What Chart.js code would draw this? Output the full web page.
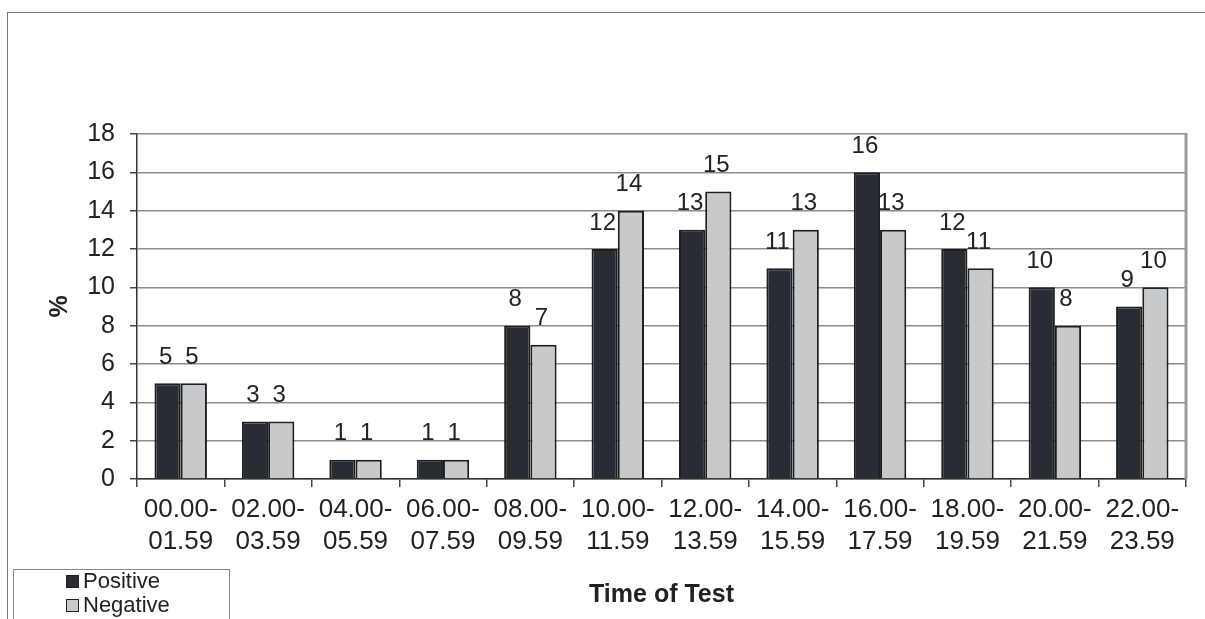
<!DOCTYPE html>
<html>
<head>
<meta charset="utf-8">
<script src="https://cdn.jsdelivr.net/npm/chart.js@4.4.0/dist/chart.umd.min.js"></script>
<style>
    html, body { margin: 0; padding: 0; background: #fff; overflow: hidden; }
    #wrap { position: relative; width: 1205px; height: 619px; }
    #frame { position: absolute; left: 7px; top: 12px; right: 0; bottom: 0;
             border-top: 1.5px solid #777; border-left: 1.5px solid #777; }
    #legend { position: absolute; left: 13px; top: 569px; width: 215px; height: 70px;
              border: 1px solid #888; background: #fff;
              font-family: "Liberation Sans", Arial, sans-serif; font-size: 22px; color: #222; }
    #legend .item { position: absolute; left: 52px; display: flex; align-items: center; }
    #legend .sw { width: 13px; height: 13px; border: 1.5px solid #222; margin-right: 4px; box-sizing: border-box; }
</style>
</head>
<body>
<div id="wrap">
    <div id="frame"></div>
    <canvas id="barChart" width="1205" height="619"></canvas>
    <div id="legend"></div>
</div>
<script>
const categories = [
    ['00.00-', '01.59'], ['02.00-', '03.59'], ['04.00-', '05.59'], ['06.00-', '07.59'],
    ['08.00-', '09.59'], ['10.00-', '11.59'], ['12.00-', '13.59'], ['14.00-', '15.59'],
    ['16.00-', '17.59'], ['18.00-', '19.59'], ['20.00-', '21.59'], ['22.00-', '23.59']
];
const positive = [5, 3, 1, 1, 8, 12, 13, 11, 16, 12, 10, 9];
const negative = [5, 3, 1, 1, 7, 14, 15, 13, 13, 11, 8, 10];
const yTicks = [0, 2, 4, 6, 8, 10, 12, 14, 16, 18];

const FONT = '"Liberation Sans", Arial, sans-serif';
const TEXT = '#222';

// 數值標籤：畫在每根長條上方
const valueLabels = {
    id: 'valueLabels',
    afterDatasetsDraw(chart) {
        const ctx = chart.ctx;
        ctx.save();
        ctx.font = '24px ' + FONT;
        ctx.fillStyle = TEXT;
        ctx.textAlign = 'center';
        ctx.textBaseline = 'bottom';
        chart.data.datasets.forEach((ds, i) => {
            chart.getDatasetMeta(i).data.forEach((bar, j) => {
                ctx.fillText(ds.data[j], bar.x - 2, bar.y - 14);
            });
        });
        ctx.restore();
    }
};

// 繪圖區右側框線
const rightEdge = {
    id: 'rightEdge',
    beforeDatasetsDraw(chart) {
        const { ctx, chartArea } = chart;
        ctx.save();
        ctx.strokeStyle = '#999';
        ctx.lineWidth = 3;
        ctx.beginPath();
        ctx.moveTo(chartArea.right, chartArea.top - 1);
        ctx.lineTo(chartArea.right, chartArea.bottom);
        ctx.stroke();
        ctx.restore();
    }
};

const chart = new Chart(document.getElementById('barChart'), {
    type: 'bar',
    data: {
        labels: categories,
        datasets: [{
            label: 'Positive',
            data: positive,
            backgroundColor: '#272d33',
            borderColor: '#1c1f22',
            borderWidth: 2,
            categoryPercentage: 0.6,
            barPercentage: 1.0
        }, {
            label: 'Negative',
            data: negative,
            backgroundColor: '#c7c9cb',
            borderColor: '#1c1f22',
            borderWidth: 2,
            categoryPercentage: 0.6,
            barPercentage: 1.0
        }]
    },
    options: {
        responsive: false,
        animation: false,
        layout: { padding: { top: 134, right: 19, left: 0, bottom: 0 } },
        plugins: {
            legend: { display: false },
            tooltip: { enabled: false }
        },
        scales: {
            x: {
                afterFit(scale) { scale.height = 140; },
                grid: { offset: true, drawOnChartArea: false, tickLength: 8, color: '#444', lineWidth: 1.5 },
                border: { color: '#333', width: 1.5 },
                ticks: { color: TEXT, font: { family: FONT, size: 26, lineHeight: 1.26 }, padding: 6, maxRotation: 0, autoSkip: false },
                title: { display: true, text: 'Time of Test', color: TEXT, font: { family: FONT, size: 25, weight: 'bold', lineHeight: 1.2 }, padding: { bottom: 9 } }
            },
            y: {
                min: 0,
                max: 18,
                afterFit(scale) { scale.width = 137; },
                afterBuildTicks(scale) { scale.ticks = yTicks.map(v => ({ value: v })); },
                grid: { color: '#8c8c8c', lineWidth: 1.5, tickLength: 7, tickColor: '#444' },
                border: { color: '#333', width: 1.5 },
                ticks: { color: TEXT, font: { family: FONT, size: 25 }, padding: 15 },
                title: { display: true, text: '%', color: TEXT, font: { family: FONT, size: 25, weight: 'bold', lineHeight: 1.2 }, padding: { top: 45 } }
            }
        }
    },
    plugins: [rightEdge, valueLabels]
});

// 圖例
const legend = document.getElementById('legend');
chart.data.datasets.forEach((ds, i) => {
    const item = document.createElement('div');
    item.className = 'item';
    item.style.top = (i * 24 - 2) + 'px';
    const sw = document.createElement('span');
    sw.className = 'sw';
    sw.style.background = ds.backgroundColor;
    const txt = document.createElement('span');
    txt.textContent = ds.label;
    item.appendChild(sw);
    item.appendChild(txt);
    legend.appendChild(item);
});
</script>
</body>
</html>
